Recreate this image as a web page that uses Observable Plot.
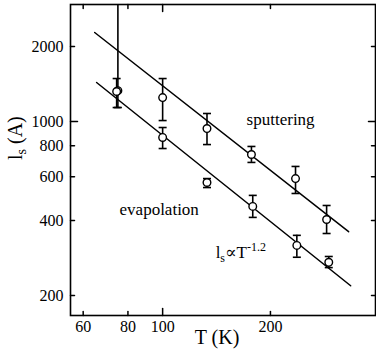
<!DOCTYPE html>
<html><head><meta charset="utf-8">
<script src="https://cdn.jsdelivr.net/npm/d3@7"></script>
<script src="https://cdn.jsdelivr.net/npm/@observablehq/plot@0.6"></script>
<style>
body{margin:0;background:#fff}
svg{display:block}
svg text, svg tspan{font-family:"Liberation Serif",Tinos,"Times New Roman","DejaVu Serif",serif !important;}
</style>
</head><body><div id="chart"></div>
<script>
// Sputtering series
const sputT  = [75, 100, 133, 177, 235, 287];
const sputL  = [1330, 1248, 937, 737, 590, 404];
const sputLo = [1138, 1009, 808, 685, 514, 355];
const sputHi = [4000, 1488, 1077, 794, 660, 460];
// Evaporation series
const evapT  = [74.4, 100, 133, 178.5, 237, 291];
const evapL  = [1320, 863, 569, 456, 318, 272];
const evapLo = [1138, 779, 543, 412, 285, 259];
const evapHi = [1488, 946, 590, 505, 349, 287];
// Fit lines (l_s ∝ T^-1.2)
const sputFitT = [64.6, 330.6];
const sputFitL = [2278, 361];
const evapFitT = [65.4, 335];
const evapFitL = [1434, 219];
// Ticks
const xLabels = [60, 80, 100, 200];
const xMajor = [100];
const xMinor = [60, 80, 200];
const yLabels = [200, 400, 600, 800, 1000, 2000];
const yMajor = [1000];
const yMinor = [200, 400, 600, 800, 2000];
// Annotations
const annotText = ["sputtering", "evapolation", "ls∝T-1.2"];
const annotT = [171.6, 75.8, 140.6];
const annotL = [1019, 443, 298];

const pts = (T, L, lo, hi) => T.map((t, i) => ({T: t, L: L[i], lo: lo[i], hi: hi[i]}));
const sput = pts(sputT, sputL, sputLo, sputHi);
const evap = pts(evapT, evapL, evapLo, evapHi);
const all = sput.concat(evap);
const fitS = sputFitT.map((t, i) => ({T: t, L: sputFitL[i]}));
const fitE = evapFitT.map((t, i) => ({T: t, L: evapFitL[i]}));
const annots = annotText.map((s, i) => ({text: s, T: annotT[i], L: annotL[i]}));

const tickShape = {draw(ctx, l) { ctx.moveTo(0, 0); ctx.lineTo(0, -l); }};
const capSymbol = {draw(ctx, size) { const r = Math.sqrt(size / Math.PI); ctx.moveTo(-r, 0); ctx.lineTo(r, 0); }};

const tickMarks = (vals, len, side) => {
  const o = {length: len, anchor: "start", shape: tickShape, strokeWidth: 1.5, stroke: "black"};
  if (side === "bottom") return Plot.vector(vals, {...o, x: d => d, frameAnchor: "bottom", rotate: 0});
  if (side === "top") return Plot.vector(vals, {...o, x: d => d, frameAnchor: "top", rotate: 180});
  if (side === "left") return Plot.vector(vals, {...o, y: d => d, frameAnchor: "left", rotate: 90});
  return Plot.vector(vals, {...o, y: d => d, frameAnchor: "right", rotate: -90});
};

const serif = "'Liberation Serif', Tinos, 'Times New Roman', 'DejaVu Serif', serif";
const chart = Plot.plot({
  width: 376, height: 357,
  marginLeft: 70, marginRight: 1, marginTop: 4, marginBottom: 42,
  style: {fontFamily: serif, fontSize: "15px", background: "white", color: "black"},
  x: {type: "log", domain: [55.3, 393]},
  y: {type: "log", domain: [166.3, 2951]},
  marks: [
    Plot.axisX({ticks: xLabels, tickSize: 0, tickPadding: 5, fontSize: 16, label: null, tickFormat: d => String(d)}),
    Plot.axisY({ticks: yLabels, tickSize: 0, tickPadding: 7, fontSize: 16, label: null, tickFormat: d => String(d)}),
    tickMarks(xMajor, 7, "bottom"), tickMarks(xMinor, 4, "bottom"),
    tickMarks(xMajor, 7, "top"), tickMarks(xMinor, 4, "top"),
    tickMarks(yMajor, 7, "left"), tickMarks(yMinor, 4, "left"),
    tickMarks(yMajor, 7, "right"), tickMarks(yMinor, 4, "right"),
    Plot.line(fitS, {x: "T", y: "L", stroke: "black", strokeWidth: 1.5}),
    Plot.line(fitE, {x: "T", y: "L", stroke: "black", strokeWidth: 1.5}),
    Plot.ruleX(all, {x: "T", y1: "lo", y2: "hi", stroke: "black", strokeWidth: 1.6, clip: true}),
    Plot.dot(all, {x: "T", y: "lo", symbol: capSymbol, r: 4, stroke: "black", strokeWidth: 1.6, clip: true}),
    Plot.dot(all, {x: "T", y: "hi", symbol: capSymbol, r: 4, stroke: "black", strokeWidth: 1.6, clip: true}),
    Plot.dot(all, {x: "T", y: "L", r: 3.8, fill: "white", stroke: "black", strokeWidth: 1.4}),
    Plot.text(annots, {x: "T", y: "L", text: "text", textAnchor: "start", fontSize: 17, fontFamily: serif}),
    Plot.text(["T (K)"], {frameAnchor: "bottom", text: d => d, dy: 28, dx: -6, fontSize: 20, fontFamily: serif}),
    Plot.text(["ls (A)"], {frameAnchor: "left", text: d => d, dx: -55, rotate: -90, fontSize: 20, fontFamily: serif}),
    Plot.frame({stroke: "black", strokeWidth: 1.6})
  ]
});
chart.setAttribute("font-family", serif);
document.getElementById("chart").appendChild(chart);

// Sub/superscripts
d3.select(chart).selectAll("text").each(function() {
  const t = d3.select(this);
  const s = this.textContent;
  if (s === "ls∝T-1.2") {
    t.text(null);
    t.append("tspan").text("l");
    t.append("tspan").attr("dy", 4).attr("font-size", 12).text("s");
    t.append("tspan").attr("dy", -4).text("∝T");
    t.append("tspan").attr("dy", -7).attr("font-size", 12).text("-1.2");
  } else if (s === "ls (A)") {
    t.text(null);
    t.append("tspan").text("l");
    t.append("tspan").attr("dy", 4).attr("font-size", 14).text("s");
    t.append("tspan").attr("dy", -4).text(" (A)");
  }
});
</script>
</body></html>
